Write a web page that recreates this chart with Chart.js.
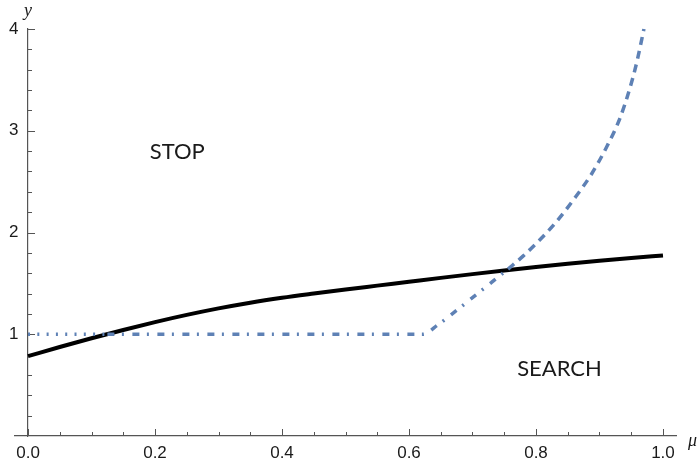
<!DOCTYPE html>
<html>
<head>
<meta charset="utf-8">
<script src="https://cdn.jsdelivr.net/npm/chart.js@4.4.1/dist/chart.umd.min.js"></script>
<style>
html,body{margin:0;padding:0;background:#fff;}
#wrap{width:700px;height:465px;position:relative;}
</style>
</head>
<body>
<div id="wrap"><canvas id="c" width="700" height="465"></canvas></div>
<script>
// ---- data ----
const muGrid = [0,0.05,0.1,0.15,0.2,0.25,0.3,0.35,0.4,0.45,0.5,0.55,0.6,0.65,0.7,0.75,0.8,0.85,0.9,0.95,1.0];
const stopBoundary = [0.785,0.875,0.961,1.042,1.119,1.190,1.254,1.310,1.358,1.400,1.440,1.478,1.516,1.554,1.591,1.627,1.661,1.693,1.723,1.750,1.774];

const thresholdMu = [0,0.125,0.30,0.45,0.60,0.622,0.645,0.670,0.700,0.730,0.756,0.780,0.800,0.830,0.860,0.888,0.912,0.932,0.948,0.959,0.970];
const thresholdY  = [1,1,1,1,1,1,1.09,1.21,1.36,1.51,1.64,1.77,1.89,2.09,2.33,2.58,2.85,3.12,3.42,3.68,4.0];
const crossLow = 0.125;   // where threshold and boundary meet (left)
const crossHigh = 0.756;  // where threshold and boundary meet (right)

const xTickLabels = ['0.0','0.2','0.4','0.6','0.8','1.0'];
const yTickLabels = ['1','2','3','4'];
const regionLabels = ['STOP','SEARCH'];
const regionMu = [0.235,0.837];
const regionY = [2.79,0.66];
const xAxisTitle = 'μ';
const yAxisTitle = 'y';

// ---- build datasets ----
const pts = (xs, ys) => xs.map((x,i)=>({x:x, y:ys[i]}));
const thr = pts(thresholdMu, thresholdY);
const thrDotted = thr.filter(p => p.x <= crossLow + 1e-9);
const thrDashDot = thr.filter(p => p.x >= crossLow - 1e-9 && p.x <= crossHigh + 1e-9);
const thrDashed = thr.filter(p => p.x >= crossHigh - 1e-9);

const BLUE = '#5E81B5';
const AXIS = '#555555';
const TXT = '#1a1a1a';
const tickFont = {family:'"Liberation Sans", Arial, sans-serif', size:17};

function findLabel(arr, v){
  const f = arr.find(l => Math.abs(parseFloat(l) - v) < 1e-6);
  return f === undefined ? '' : f;
}

const tickPlugin = {
  id:'inwardTicks',
  beforeDatasetsDraw(chart){
    const {ctx, scales:{x, y}} = chart;
    const x0 = x.getPixelForValue(0), y0 = y.getPixelForValue(0);
    ctx.save();
    ctx.strokeStyle = AXIS; ctx.lineWidth = 1;
    x.ticks.forEach(t => {
      const major = findLabel(xTickLabels, t.value) !== '';
      const px = Math.round(x.getPixelForValue(t.value)) + 0.5;
      ctx.beginPath(); ctx.moveTo(px, y0); ctx.lineTo(px, y0 - (major ? 7 : 4)); ctx.stroke();
    });
    y.ticks.forEach(t => {
      if (t.value <= 0) return;
      const major = findLabel(yTickLabels, t.value) !== '';
      const py = Math.round(y.getPixelForValue(t.value)) + 0.5;
      ctx.beginPath(); ctx.moveTo(x0, py); ctx.lineTo(x0 + (major ? 7 : 4), py); ctx.stroke();
    });
    ctx.restore();
  },
  afterDraw(chart){
    const {ctx, scales:{x, y}} = chart;
    ctx.save();
    ctx.fillStyle = TXT;
    ctx.font = '22px Lato, "Open Sans", sans-serif';
    ctx.textAlign = 'center'; ctx.textBaseline = 'middle';
    regionLabels.forEach((s,i) => ctx.fillText(s, x.getPixelForValue(regionMu[i]), y.getPixelForValue(regionY[i])));
    ctx.font = 'italic 18px "Liberation Serif", "DejaVu Serif", serif';
    ctx.fillText(yAxisTitle, x.getPixelForValue(0), y.getPixelForValue(4) - 18);
    ctx.textAlign = 'left';
    ctx.fillText(xAxisTitle, x.right + 12, y.getPixelForValue(0) + 5);
    ctx.restore();
  }
};

new Chart(document.getElementById('c'), {
  type:'line',
  data:{
    datasets:[
      {data:thrDotted, borderColor:BLUE, borderWidth:3.5, borderDash:[2,7.3], borderCapStyle:'butt', pointRadius:0, cubicInterpolationMode:'monotone', clip:false},
      {data:thrDashDot, borderColor:BLUE, borderWidth:3.5, borderDash:[7,7.5,2,8.5], borderCapStyle:'butt', pointRadius:0, cubicInterpolationMode:'monotone', clip:false},
      {data:thrDashed, borderColor:BLUE, borderWidth:3.5, borderDash:[8,6], borderCapStyle:'butt', pointRadius:0, cubicInterpolationMode:'monotone', clip:false},
      {data:pts(muGrid, stopBoundary), borderColor:'#000', borderWidth:4, pointRadius:0, cubicInterpolationMode:'monotone', clip:false}
    ]
  },
  options:{
    responsive:false, animation:false, devicePixelRatio:1,
    layout:{padding:{left:15, right:24, top:29, bottom:29}},
    plugins:{legend:{display:false}, tooltip:{enabled:false}},
    scales:{
      x:{
        type:'linear', min:-0.0205, max:1.0205, position:{y:0},
        ticks:{stepSize:0.05, includeBounds:false, autoSkip:false, maxRotation:0, minRotation:0, padding:7, color:TXT, font:tickFont,
               callback:(v)=>findLabel(xTickLabels, v)},
        grid:{display:false, drawTicks:false},
        border:{display:true, color:AXIS, width:1.2}
      },
      y:{
        type:'linear', min:0, max:4, position:{x:0},
        ticks:{stepSize:0.2, autoSkip:false, padding:8, color:TXT, font:tickFont,
               callback:(v)=>{const l = findLabel(yTickLabels, v); return l === '' ? '' : l + '  ';}},
        grid:{display:false, drawTicks:false},
        border:{display:true, color:AXIS, width:1.2}
      }
    }
  },
  plugins:[tickPlugin]
});
</script>
</body>
</html>
